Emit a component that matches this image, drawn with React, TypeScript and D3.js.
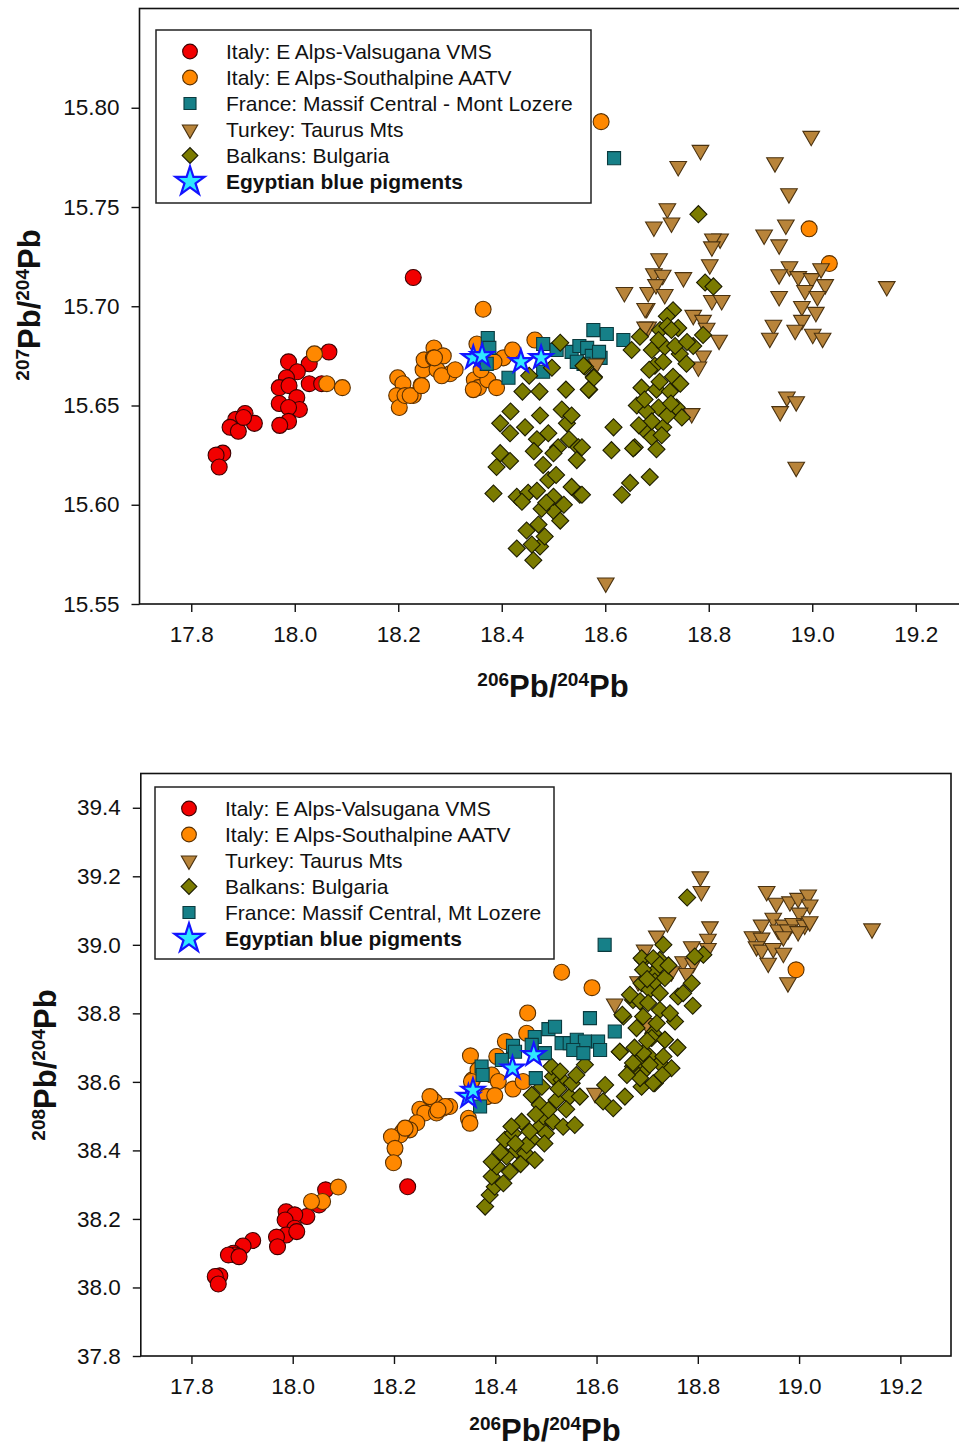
import React, { useEffect, useRef } from "react";
import * as d3 from "d3";

// ---- tick values ----
const xTicks = [17.8, 18.0, 18.2, 18.4, 18.6, 18.8, 19.0, 19.2];
const topYTicks = [15.55, 15.6, 15.65, 15.7, 15.75, 15.8];
const bottomYTicks = [37.8, 38.0, 38.2, 38.4, 38.6, 38.8, 39.0, 39.2, 39.4];

// ---- legend labels ----
const topLegend = [
  "Italy: E Alps-Valsugana VMS",
  "Italy: E Alps-Southalpine AATV",
  "France: Massif Central - Mont Lozere",
  "Turkey: Taurus Mts",
  "Balkans: Bulgaria",
  "Egyptian blue pigments",
];
const bottomLegend = [
  "Italy: E Alps-Valsugana VMS",
  "Italy: E Alps-Southalpine AATV",
  "Turkey: Taurus Mts",
  "Balkans: Bulgaria",
  "France: Massif Central, Mt Lozere",
  "Egyptian blue pigments",
];

// ---- top panel: 206Pb/204Pb vs 207Pb/204Pb ----
const topValsugana = [
  [18.229, 15.7145], [18.066, 15.677], [18.028, 15.671], [17.988, 15.672], [18.005, 15.667],
  [17.984, 15.664], [17.97, 15.659], [17.989, 15.66], [18.028, 15.661], [18.052, 15.661],
  [18.004, 15.654], [18.009, 15.648], [17.97, 15.651], [17.988, 15.649], [17.988, 15.642],
  [17.971, 15.64], [17.886, 15.643], [17.904, 15.646], [17.922, 15.641], [17.875, 15.639],
  [17.891, 15.637], [17.901, 15.644], [17.861, 15.626], [17.848, 15.625], [17.854, 15.619],
];
const topAatv = [
  [18.038, 15.676], [18.062, 15.661], [18.092, 15.659],
  [18.199, 15.664], [18.209, 15.661], [18.197, 15.655], [18.202, 15.649], [18.213, 15.655],
  [18.229, 15.655], [18.244, 15.66], [18.248, 15.668], [18.25, 15.673], [18.269, 15.679],
  [18.268, 15.674], [18.287, 15.675], [18.275, 15.668], [18.3, 15.666], [18.284, 15.665],
  [18.223, 15.655], [18.245, 15.66], [18.27, 15.674], [18.31, 15.668], [18.364, 15.6985],
  [18.352, 15.681], [18.347, 15.663], [18.355, 15.659], [18.373, 15.663], [18.39, 15.659],
  [18.403, 15.674], [18.421, 15.678], [18.464, 15.683], [18.345, 15.658], [18.385, 15.672],
  [18.36, 15.668], [18.592, 15.793], [18.994, 15.739], [19.033, 15.7215],
];
const topFrance = [
  [18.373, 15.684], [18.376, 15.679], [18.371, 15.671], [18.413, 15.664], [18.48, 15.681],
  [18.48, 15.667], [18.506, 15.678], [18.535, 15.677], [18.55, 15.68], [18.565, 15.679],
  [18.577, 15.688], [18.603, 15.686], [18.591, 15.674], [18.635, 15.683], [18.574, 15.675],
  [18.558, 15.671], [18.617, 15.7746], [18.545, 15.672], [18.588, 15.677],
];
const topTurkey = [
  [18.998, 15.7857], [18.784, 15.7786], [18.741, 15.7705], [18.928, 15.7724], [18.955, 15.7568],
  [18.72, 15.7492], [18.694, 15.74], [18.728, 15.742], [18.949, 15.741], [18.907, 15.736],
  [18.822, 15.734], [18.808, 15.734], [18.806, 15.73], [18.936, 15.731], [18.704, 15.724],
  [18.802, 15.721], [18.694, 15.7165], [18.711, 15.7157], [18.751, 15.7145], [18.956, 15.72],
  [18.936, 15.716], [18.973, 15.715], [18.999, 15.714], [19.017, 15.719], [19.025, 15.711],
  [19.144, 15.71], [18.637, 15.707], [18.683, 15.707], [18.698, 15.711], [18.715, 15.706],
  [18.68, 15.699], [18.806, 15.703], [18.825, 15.703], [18.936, 15.705], [18.986, 15.708],
  [19.01, 15.705], [18.98, 15.7], [19.007, 15.697], [18.98, 15.693], [18.925, 15.6905],
  [18.918, 15.684], [18.967, 15.688], [19.001, 15.686], [19.02, 15.684], [18.77, 15.6955],
  [18.789, 15.693], [18.796, 15.689], [18.82, 15.683], [18.683, 15.6896], [18.789, 15.675],
  [18.78, 15.6695], [18.767, 15.646], [18.951, 15.6544], [18.969, 15.652], [18.938, 15.647],
  [18.969, 15.619], [18.601, 15.5607], [18.583, 15.671], [18.677, 15.699], [18.677, 15.6896],
];
const topBulgaria = [
  [18.513, 15.6816], [18.497, 15.669], [18.453, 15.665], [18.44, 15.657], [18.473, 15.657],
  [18.524, 15.658], [18.569, 15.658], [18.561, 15.6695], [18.578, 15.6645], [18.417, 15.647],
  [18.474, 15.645], [18.516, 15.648], [18.397, 15.641], [18.416, 15.636], [18.445, 15.639],
  [18.49, 15.636], [18.526, 15.641], [18.468, 15.633], [18.548, 15.629], [18.509, 15.629],
  [18.397, 15.626], [18.416, 15.622], [18.39, 15.619], [18.5, 15.626], [18.48, 15.62],
  [18.545, 15.6225], [18.49, 15.6125], [18.384, 15.6057], [18.429, 15.604], [18.451, 15.606],
  [18.551, 15.605], [18.535, 15.609], [18.5, 15.597], [18.477, 15.598], [18.513, 15.592],
  [18.448, 15.587], [18.471, 15.59], [18.429, 15.578], [18.461, 15.572], [18.474, 15.579],
  [18.483, 15.584], [18.5, 15.604], [18.439, 15.6015], [18.616, 15.639], [18.612, 15.6275],
  [18.648, 15.611], [18.632, 15.605], [18.686, 15.614], [18.657, 15.629],
  [18.78, 15.7464], [18.793, 15.712], [18.809, 15.71], [18.731, 15.698], [18.719, 15.695],
  [18.741, 15.689], [18.706, 15.688], [18.667, 15.6846], [18.789, 15.6855], [18.651, 15.678],
  [18.69, 15.678], [18.715, 15.6796], [18.77, 15.68], [18.744, 15.676], [18.696, 15.67],
  [18.731, 15.6645], [18.757, 15.671], [18.67, 15.659], [18.699, 15.658], [18.725, 15.657],
  [18.661, 15.65], [18.703, 15.649], [18.738, 15.649], [18.68, 15.647], [18.748, 15.644],
  [18.674, 15.638], [18.712, 15.639], [18.69, 15.634], [18.709, 15.635], [18.699, 15.628],
  [18.654, 15.6284], [18.558, 15.67], [18.578, 15.664], [18.568, 15.658], [18.555, 15.629],
  [18.555, 15.605], [18.72, 15.69], [18.735, 15.68], [18.705, 15.662], [18.72, 15.645],
  [18.685, 15.668], [18.712, 15.672], [18.727, 15.651], [18.69, 15.642], [18.676, 15.653],
  [18.745, 15.661], [18.758, 15.682], [18.703, 15.683], [18.728, 15.688], [18.665, 15.64],
  [18.505, 15.615], [18.52, 15.6], [18.486, 15.601], [18.468, 15.607], [18.458, 15.58],
  [18.53, 15.633], [18.535, 15.645], [18.462, 15.627],
];
const topEgypt = [
  [18.345, 15.674], [18.362, 15.675], [18.437, 15.672], [18.476, 15.674],
];

// ---- bottom panel: 206Pb/204Pb vs 208Pb/204Pb ----
const bottomValsugana = [
  [18.227, 38.294], [18.065, 38.285], [18.052, 38.241], [18.028, 38.207], [17.987, 38.221],
  [18.004, 38.212], [17.985, 38.197], [18.004, 38.173], [17.987, 38.153], [17.968, 38.147],
  [17.97, 38.119], [18.008, 38.163], [17.921, 38.137], [17.902, 38.121], [17.883, 38.1],
  [17.886, 38.095], [17.873, 38.095], [17.894, 38.09], [17.856, 38.034], [17.847, 38.032],
  [17.853, 38.01],
];
const bottomAatv = [
  [18.09, 38.293], [18.059, 38.251], [18.037, 38.251], [18.351, 38.676], [18.355, 38.606],
  [18.347, 38.494], [18.35, 38.479], [18.274, 38.552], [18.281, 38.542], [18.297, 38.523],
  [18.31, 38.528], [18.251, 38.52], [18.261, 38.509], [18.284, 38.509], [18.245, 38.481],
  [18.231, 38.46], [18.217, 38.455], [18.212, 38.445], [18.195, 38.44], [18.202, 38.406],
  [18.199, 38.364], [18.531, 38.92], [18.591, 38.875], [18.464, 38.801], [18.462, 38.742],
  [18.42, 38.718], [18.403, 38.674], [18.366, 38.635], [18.393, 38.62], [18.406, 38.601],
  [18.435, 38.579], [18.455, 38.601], [18.353, 38.601], [18.383, 38.557], [18.399, 38.56],
  [18.271, 38.557], [18.301, 38.528], [18.287, 38.518], [18.222, 38.465], [18.994, 38.927],
];
const bottomTurkey = [
  [18.805, 39.199], [18.807, 39.156], [18.74, 39.065], [18.824, 39.053], [18.82, 39.017],
  [18.719, 39.026], [18.788, 38.995], [18.82, 38.99], [18.695, 38.985], [18.771, 38.951],
  [18.791, 38.947], [18.748, 38.922], [18.778, 38.917], [18.682, 38.893], [18.636, 38.828],
  [18.699, 38.771], [18.597, 38.567], [18.936, 39.156], [18.955, 39.122], [18.982, 39.126],
  [18.998, 39.136], [19.018, 39.146], [19.021, 39.117], [19.001, 39.093], [18.949, 39.078],
  [18.926, 39.058], [18.969, 39.058], [18.988, 39.063], [19.011, 39.058], [19.021, 39.068],
  [18.959, 39.044], [18.978, 39.044], [18.998, 39.039], [18.908, 39.024], [18.926, 39.02],
  [18.969, 39.024], [18.916, 38.995], [18.926, 38.985], [18.949, 38.99], [18.969, 38.976],
  [18.939, 38.947], [18.978, 38.89], [19.144, 39.047],
];
const bottomBulgaria = [
  [18.38, 38.236], [18.389, 38.27], [18.399, 38.294], [18.393, 38.324], [18.416, 38.304],
  [18.403, 38.353], [18.393, 38.367], [18.429, 38.338], [18.422, 38.382], [18.442, 38.401],
  [18.459, 38.392], [18.478, 38.372], [18.419, 38.431], [18.435, 38.45], [18.452, 38.484],
  [18.472, 38.431], [18.462, 38.416], [18.488, 38.469], [18.468, 38.455], [18.495, 38.499],
  [18.514, 38.484], [18.534, 38.469], [18.557, 38.474], [18.472, 38.562], [18.488, 38.533],
  [18.505, 38.518], [18.521, 38.547], [18.547, 38.557], [18.567, 38.557], [18.492, 38.586],
  [18.514, 38.616], [18.531, 38.606], [18.551, 38.596], [18.511, 38.645], [18.528, 38.63],
  [18.577, 38.65], [18.617, 38.591], [18.613, 38.543], [18.633, 38.523], [18.656, 38.557],
  [18.646, 38.688], [18.672, 38.645], [18.689, 38.625], [18.686, 38.664], [18.705, 38.674],
  [18.725, 38.655], [18.715, 38.596], [18.689, 38.586], [18.692, 38.791], [18.653, 38.791],
  [18.672, 38.839], [18.689, 38.888], [18.705, 38.869], [18.712, 38.917], [18.725, 38.956],
  [18.692, 38.956], [18.725, 38.81], [18.712, 38.742], [18.735, 38.723],
  [18.779, 39.138], [18.732, 39.0], [18.689, 38.961], [18.712, 38.961], [18.725, 38.942],
  [18.811, 38.971], [18.794, 38.966], [18.692, 38.927], [18.715, 38.893], [18.735, 38.903],
  [18.788, 38.888], [18.666, 38.854], [18.686, 38.835], [18.702, 38.83], [18.725, 38.859],
  [18.761, 38.849], [18.771, 38.859], [18.79, 38.822], [18.651, 38.796], [18.679, 38.757],
  [18.719, 38.771], [18.755, 38.776], [18.709, 38.728], [18.735, 38.723], [18.646, 38.688],
  [18.692, 38.684], [18.732, 38.674], [18.672, 38.655], [18.705, 38.65], [18.748, 38.64],
  [18.686, 38.611], [18.712, 38.596], [18.44, 38.42], [18.5, 38.45], [18.54, 38.52],
  [18.45, 38.36], [18.41, 38.395], [18.432, 38.47], [18.48, 38.505], [18.525, 38.58],
  [18.56, 38.62], [18.497, 38.42], [18.7, 38.72], [18.745, 38.8], [18.7, 38.9],
  [18.742, 38.94], [18.675, 38.7], [18.66, 38.62], [18.73, 38.62], [18.76, 38.7],
];
const bottomFrance = [
  [18.616, 39.0], [18.587, 38.786], [18.636, 38.747], [18.505, 38.754], [18.518, 38.761],
  [18.478, 38.731], [18.435, 38.705], [18.439, 38.688], [18.472, 38.708], [18.413, 38.664],
  [18.498, 38.684], [18.531, 38.713], [18.547, 38.713], [18.561, 38.723], [18.577, 38.718],
  [18.603, 38.718], [18.554, 38.693], [18.574, 38.684], [18.607, 38.693], [18.373, 38.645],
  [18.375, 38.62], [18.48, 38.611], [18.37, 38.528],
];
const bottomEgypt = [
  [18.347, 38.557], [18.356, 38.575], [18.434, 38.64], [18.476, 38.679],
];

// marker looks, shared by both panels
const marks = {
  valsugana: { shape: "circle", fill: "#f20000", stroke: "#3d0000", size: 200 },
  aatv: { shape: "circle", fill: "#ff8800", stroke: "#5a3000", size: 200 },
  france: { shape: "square", fill: "#168088", stroke: "#0a3a3e", size: 170 },
  turkey: { shape: "triangle", fill: "#b8843a", stroke: "#4a3210", size: 120 },
  bulgaria: { shape: "diamond", fill: "#7b7b00", stroke: "#1c1c00", size: 145 },
  egypt: { shape: "star", fill: "#30e8ff", stroke: "#1414ff", size: 160 },
};

const FONT = "Arial, 'Liberation Sans', Helvetica, sans-serif";

function symbolD(shape, size) {
  const type =
    shape === "circle" ? d3.symbolCircle
      : shape === "triangle" ? d3.symbolTriangle
        : shape === "star" ? d3.symbolStar
          : d3.symbolSquare;
  return d3.symbol().type(type).size(size)();
}
function rot(shape) {
  if (shape === "diamond") return 45;
  if (shape === "triangle") return 180;
  return 0;
}

function drawMarks(g, pts, m, xs, ys) {
  g.append("g")
    .selectAll("path")
    .data(pts)
    .enter()
    .append("path")
    .attr("d", symbolD(m.shape, m.size))
    .attr("transform", d => `translate(${xs(d[0])},${ys(d[1])}) rotate(${rot(m.shape)})`)
    .attr("fill", m.fill)
    .attr("stroke", m.stroke)
    .attr("stroke-width", m.shape === "star" ? 2.2 : 1.1);
}

function drawPanel(svg, p) {
  const xs = d3.scaleLinear().domain([17.7, 19.3]).range([p.left, p.right]);
  const ys = d3.scaleLinear().domain(p.yDomain).range([p.bottom, p.top]);

  const g = svg.append("g");

  // series
  p.series.forEach(s => drawMarks(g, s.pts, marks[s.key], xs, ys));

  // frame
  g.append("rect")
    .attr("x", p.left).attr("y", p.top)
    .attr("width", p.right - p.left).attr("height", p.bottom - p.top)
    .attr("fill", "none").attr("stroke", "#111").attr("stroke-width", 1.6);

  // axes
  const xa = g.append("g").attr("transform", `translate(0,${p.bottom})`)
    .call(d3.axisBottom(xs).tickValues(xTicks).tickFormat(d3.format(".1f")).tickSize(8).tickPadding(14));
  const ya = g.append("g").attr("transform", `translate(${p.left},0)`)
    .call(d3.axisLeft(ys).tickValues(p.yTicks).tickFormat(d3.format(p.yFmt)).tickSize(8).tickPadding(12));
  [xa, ya].forEach(a => {
    a.select(".domain").remove();
    a.selectAll("line").attr("stroke", "#111").attr("stroke-width", 1.4);
    a.selectAll("text").attr("font-family", FONT).attr("font-size", 22.5).attr("fill", "#111");
  });

  // x title
  const xt = g.append("text")
    .attr("x", p.xTitle[0]).attr("y", p.xTitle[1])
    .attr("text-anchor", "middle").attr("font-family", FONT).attr("font-weight", "bold").attr("fill", "#111");
  addIso(xt, "206", "204");

  // y title
  const yt = g.append("text")
    .attr("transform", `translate(${p.yTitle[0]},${p.yTitle[1]}) rotate(-90)`)
    .attr("text-anchor", "middle").attr("font-family", FONT).attr("font-weight", "bold").attr("fill", "#111");
  addIso(yt, p.yIso, "204");

  // legend
  const lg = g.append("g");
  lg.append("rect")
    .attr("x", p.legend.x).attr("y", p.legend.y)
    .attr("width", p.legend.w).attr("height", p.legend.h)
    .attr("fill", "white").attr("stroke", "#222").attr("stroke-width", 1.5);
  p.series.forEach((s, i) => {
    const cy = p.legend.y + 21.5 + i * 26;
    const m = marks[s.key];
    lg.append("path")
      .attr("d", symbolD(m.shape, m.shape === "star" ? 260 : m.size * 0.85))
      .attr("transform", `translate(${p.legend.x + 34},${cy}) rotate(${rot(m.shape)})`)
      .attr("fill", m.fill).attr("stroke", m.stroke)
      .attr("stroke-width", m.shape === "star" ? 2.2 : 1.1);
    lg.append("text")
      .attr("x", p.legend.x + 70).attr("y", cy + 7.5)
      .attr("font-family", FONT).attr("font-size", 21)
      .attr("font-weight", s.key === "egypt" ? "bold" : "normal")
      .attr("fill", "#111")
      .text(p.labels[i]);
  });
}

function addIso(t, a, b) {
  t.append("tspan").attr("font-size", 19).attr("dy", -11).text(a);
  t.append("tspan").attr("font-size", 31).attr("dy", 11).text("Pb/");
  t.append("tspan").attr("font-size", 19).attr("dy", -11).text(b);
  t.append("tspan").attr("font-size", 31).attr("dy", 11).text("Pb");
}

export default function App() {
  const ref = useRef(null);

  useEffect(() => {
    document.body.style.margin = "0";
    const svg = d3.select(ref.current);
    svg.selectAll("*").remove();

    drawPanel(svg, {
      left: 139.5, right: 967.5, top: 8.5, bottom: 604,
      yDomain: [15.55, 15.85], yTicks: topYTicks, yFmt: ".2f",
      xTitle: [553, 697], yTitle: [40, 305], yIso: "207",
      legend: { x: 156, y: 30, w: 435, h: 173 },
      labels: topLegend,
      series: [
        { key: "valsugana", pts: topValsugana },
        { key: "aatv", pts: topAatv },
        { key: "france", pts: topFrance },
        { key: "turkey", pts: topTurkey },
        { key: "bulgaria", pts: topBulgaria },
        { key: "egypt", pts: topEgypt },
      ],
    });

    drawPanel(svg, {
      left: 140.8, right: 951, top: 773.5, bottom: 1356,
      yDomain: [37.8, 39.5], yTicks: bottomYTicks, yFmt: ".1f",
      xTitle: [545, 1441], yTitle: [56, 1065], yIso: "208",
      legend: { x: 155, y: 787, w: 399, h: 172 },
      labels: bottomLegend,
      series: [
        { key: "valsugana", pts: bottomValsugana },
        { key: "aatv", pts: bottomAatv },
        { key: "turkey", pts: bottomTurkey },
        { key: "bulgaria", pts: bottomBulgaria },
        { key: "france", pts: bottomFrance },
        { key: "egypt", pts: bottomEgypt },
      ],
    });
  }, []);

  return (
    <svg ref={ref} width={959} height={1450} style={{ display: "block", background: "white" }} />
  );
}
